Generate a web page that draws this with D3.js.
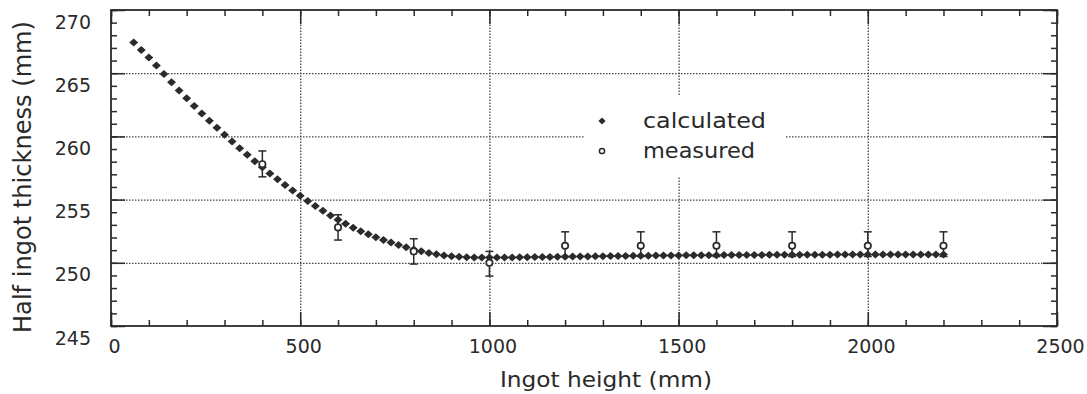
<!DOCTYPE html>
<html>
<head>
<meta charset="utf-8">
<script src="https://cdn.jsdelivr.net/npm/d3@7"></script>
<style>
  body { margin: 0; background: #fff; }
  svg { display: block; }
  text { font-family: "DejaVu Sans", sans-serif; fill: #2a2a2a; }
</style>
</head>
<body>
<svg id="chart" width="1087" height="394"></svg>
<script>

// calculated half thickness, one point every 20 mm
var calcHeights = [60, 80, 100, 120, 140, 160, 180, 200, 220, 240, 260, 280, 300, 320, 340, 360, 380, 400,
  420, 440, 460, 480, 500, 520, 540, 560, 580, 600, 620, 640, 660, 680, 700, 720, 740, 760, 780, 800,
  820, 840, 860, 880, 900, 920, 940, 960, 980, 1000, 1020, 1040, 1060, 1080, 1100, 1120, 1140, 1160,
  1180, 1200, 1220, 1240, 1260, 1280, 1300, 1320, 1340, 1360, 1380, 1400, 1420, 1440, 1460, 1480,
  1500, 1520, 1540, 1560, 1580, 1600, 1620, 1640, 1660, 1680, 1700, 1720, 1740, 1760, 1780, 1800,
  1820, 1840, 1860, 1880, 1900, 1920, 1940, 1960, 1980, 2000, 2020, 2040, 2060, 2080, 2100, 2120,
  2140, 2160, 2180, 2200];
var calcValues = [267.42, 266.84, 266.24, 265.60, 264.94, 264.28, 263.64, 263.02, 262.41, 261.82,
  261.24, 260.68, 260.13, 259.59, 259.06, 258.54, 258.04, 257.55, 257.07, 256.61, 256.16, 255.72,
  255.30, 254.89, 254.50, 254.12, 253.75, 253.40, 253.08, 252.78, 252.50, 252.25, 252.02, 251.80,
  251.60, 251.41, 251.23, 251.06, 250.91, 250.78, 250.67, 250.58, 250.52, 250.47, 250.44, 250.42,
  250.41, 250.41, 250.41, 250.42, 250.42, 250.43, 250.44, 250.45, 250.45, 250.46, 250.47, 250.48,
  250.49, 250.50, 250.50, 250.51, 250.52, 250.53, 250.53, 250.54, 250.55, 250.55, 250.56, 250.57,
  250.57, 250.58, 250.58, 250.59, 250.59, 250.60, 250.60, 250.60, 250.61, 250.61, 250.62, 250.62,
  250.62, 250.62, 250.63, 250.63, 250.63, 250.63, 250.64, 250.64, 250.64, 250.64, 250.64, 250.65,
  250.65, 250.65, 250.65, 250.65, 250.65, 250.66, 250.66, 250.66, 250.66, 250.66, 250.66, 250.66,
  250.66, 250.66];

// measured values with their error bars
var measHeights = [400, 600, 800, 1000, 1200, 1400, 1600, 1800, 2000, 2200];
var measValues = [257.8, 252.8, 250.9, 250.0, 251.35, 251.35, 251.35, 251.35, 251.35, 251.35];
var measLow = [256.8, 251.8, 249.9, 248.95, 250.5, 250.5, 250.5, 250.5, 250.5, 250.5];
var measHigh = [258.85, 253.8, 251.9, 250.9, 252.45, 252.45, 252.45, 252.45, 252.45, 252.45];

var xTicks = [0, 500, 1000, 1500, 2000, 2500];
var yTicks = [245, 250, 255, 260, 265, 270];
var xGrid = [500, 1000, 1500, 2000];
var yGrid = [250, 255, 260, 265];
var xMinor = d3.range(0, 2501, 100);
var yMinor = d3.range(245, 271, 1);
var legendLabels = ['calculated', 'measured'];

var ink = '#2b2b2b';
var plotL = 111, plotR = 1057, plotT = 10, plotB = 326;

var x = d3.scaleLinear().domain([0, 2500]).range([plotL, plotR]);
var y = d3.scaleLinear().domain([245, 270]).range([plotB, plotT]);

var svg = d3.select('#chart');

// dotted grid
svg.append('g')
.attr('transform', 'translate(0,' + plotB + ')')
.call(d3.axisBottom(x).tickValues(xGrid).tickSize(-(plotB - plotT)).tickFormat(''))
.call(function (g) { g.select('.domain').remove(); })
.selectAll('line')
.attr('stroke', '#444')
.attr('stroke-width', 1.3)
.attr('stroke-dasharray', '1.5,1.5');

svg.append('g')
.attr('transform', 'translate(' + plotL + ',0)')
.call(d3.axisLeft(y).tickValues(yGrid).tickSize(-(plotR - plotL)).tickFormat(''))
.call(function (g) { g.select('.domain').remove(); })
.selectAll('line')
.attr('stroke', '#444')
.attr('stroke-width', 1.3)
.attr('stroke-dasharray', '1.5,1.5');

// legend box hides the grid behind it
svg.append('rect')
.attr('x', 585)
.attr('y', 96)
.attr('width', 201)
.attr('height', 80)
.attr('fill', '#fff');

// ticks on all four sides, pointing inward
function tickAxis(axis, transform, size, values, fmt) {
  var g = svg.append('g')
  .attr('transform', transform)
  .call(axis.tickValues(values).tickSize(-size).tickFormat(fmt || ''));
  g.select('.domain').remove();
  g.selectAll('line').attr('stroke', ink).attr('stroke-width', 1.5);
  return g;
}

tickAxis(d3.axisBottom(x), 'translate(0,' + plotB + ')', 6, xMinor);
tickAxis(d3.axisTop(x), 'translate(0,' + plotT + ')', 6, xMinor);
tickAxis(d3.axisLeft(y), 'translate(' + plotL + ',0)', 6, yMinor);
tickAxis(d3.axisRight(y), 'translate(' + plotR + ',0)', 6, yMinor);
tickAxis(d3.axisTop(x), 'translate(0,' + plotT + ')', 14, xTicks);
tickAxis(d3.axisRight(y), 'translate(' + plotR + ',0)', 14, yTicks);

var xAxis = tickAxis(d3.axisBottom(x).tickPadding(14), 'translate(0,' + plotB + ')', 14, xTicks, d3.format('d'));
xAxis.selectAll('text')
.attr('x', 3)
.style('font-size', '19px')
.attr('fill', '#2a2a2a');

var yAxis = tickAxis(d3.axisLeft(y).tickPadding(20), 'translate(' + plotL + ',0)', 14, yTicks, d3.format('d'));
yAxis.selectAll('text')
.attr('y', 12)
.style('font-size', '19px')
.attr('fill', '#2a2a2a');

svg.append('rect')
.attr('x', plotL)
.attr('y', plotT)
.attr('width', plotR - plotL)
.attr('height', plotB - plotT)
.attr('fill', 'none')
.attr('stroke', ink)
.attr('stroke-width', 1.8);

// axis titles
svg.append('text')
.attr('x', 606)
.attr('y', 387)
.attr('text-anchor', 'middle')
.attr('textLength', 212)
.attr('lengthAdjust', 'spacingAndGlyphs')
.style('font-size', '21px')
.text('Ingot height (mm)');

svg.append('text')
.attr('transform', 'translate(31,177) rotate(-90)')
.attr('text-anchor', 'middle')
.attr('textLength', 312)
.attr('lengthAdjust', 'spacingAndGlyphs')
.style('font-size', '25px')
.text('Half ingot thickness (mm)');

// error bars of the measured points
var bars = svg.append('g')
.attr('stroke', ink)
.attr('stroke-width', 1.5)
.selectAll('g')
.data(measHeights)
.join('g');

bars.append('line')
.attr('x1', function (d) { return x(d); })
.attr('x2', function (d) { return x(d); })
.attr('y1', function (d, i) { return y(measLow[i]); })
.attr('y2', function (d, i) { return y(measHigh[i]); });

bars.append('line')
.attr('x1', function (d) { return x(d) - 4; })
.attr('x2', function (d) { return x(d) + 4; })
.attr('y1', function (d, i) { return y(measLow[i]); })
.attr('y2', function (d, i) { return y(measLow[i]); });

bars.append('line')
.attr('x1', function (d) { return x(d) - 4; })
.attr('x2', function (d) { return x(d) + 4; })
.attr('y1', function (d, i) { return y(measHigh[i]); })
.attr('y2', function (d, i) { return y(measHigh[i]); });

// calculated curve as filled diamonds
var diamond = d3.symbol().type(d3.symbolSquare).size(32);

svg.append('g')
.selectAll('path')
.data(calcHeights)
.join('path')
.attr('d', diamond)
.attr('fill', ink)
.attr('transform', function (d, i) {
  return 'translate(' + x(d) + ',' + y(calcValues[i]) + ') scale(1.12,1) rotate(45)';
});

// measured points as open circles
svg.append('g')
.selectAll('circle')
.data(measHeights)
.join('circle')
.attr('cx', function (d) { return x(d); })
.attr('cy', function (d, i) { return y(measValues[i]); })
.attr('r', 3.2)
.attr('fill', '#fff')
.attr('stroke', ink)
.attr('stroke-width', 1.7);

// legend
var legend = svg.append('g');

legend.append('path')
.attr('d', d3.symbol().type(d3.symbolSquare).size(26))
.attr('fill', ink)
.attr('transform', 'translate(602,121) rotate(45)');

legend.append('circle')
.attr('cx', 602)
.attr('cy', 151)
.attr('r', 2.6)
.attr('fill', '#fff')
.attr('stroke', ink)
.attr('stroke-width', 1.5);

legend.selectAll('text')
.data(legendLabels)
.join('text')
.attr('x', 643)
.attr('y', function (d, i) { return 128 + i * 30; })
.attr('textLength', function (d, i) { return i === 0 ? 123 : 112; })
.attr('lengthAdjust', 'spacingAndGlyphs')
.style('font-size', '21px')
.text(function (d) { return d; });

</script>
</body>
</html>
